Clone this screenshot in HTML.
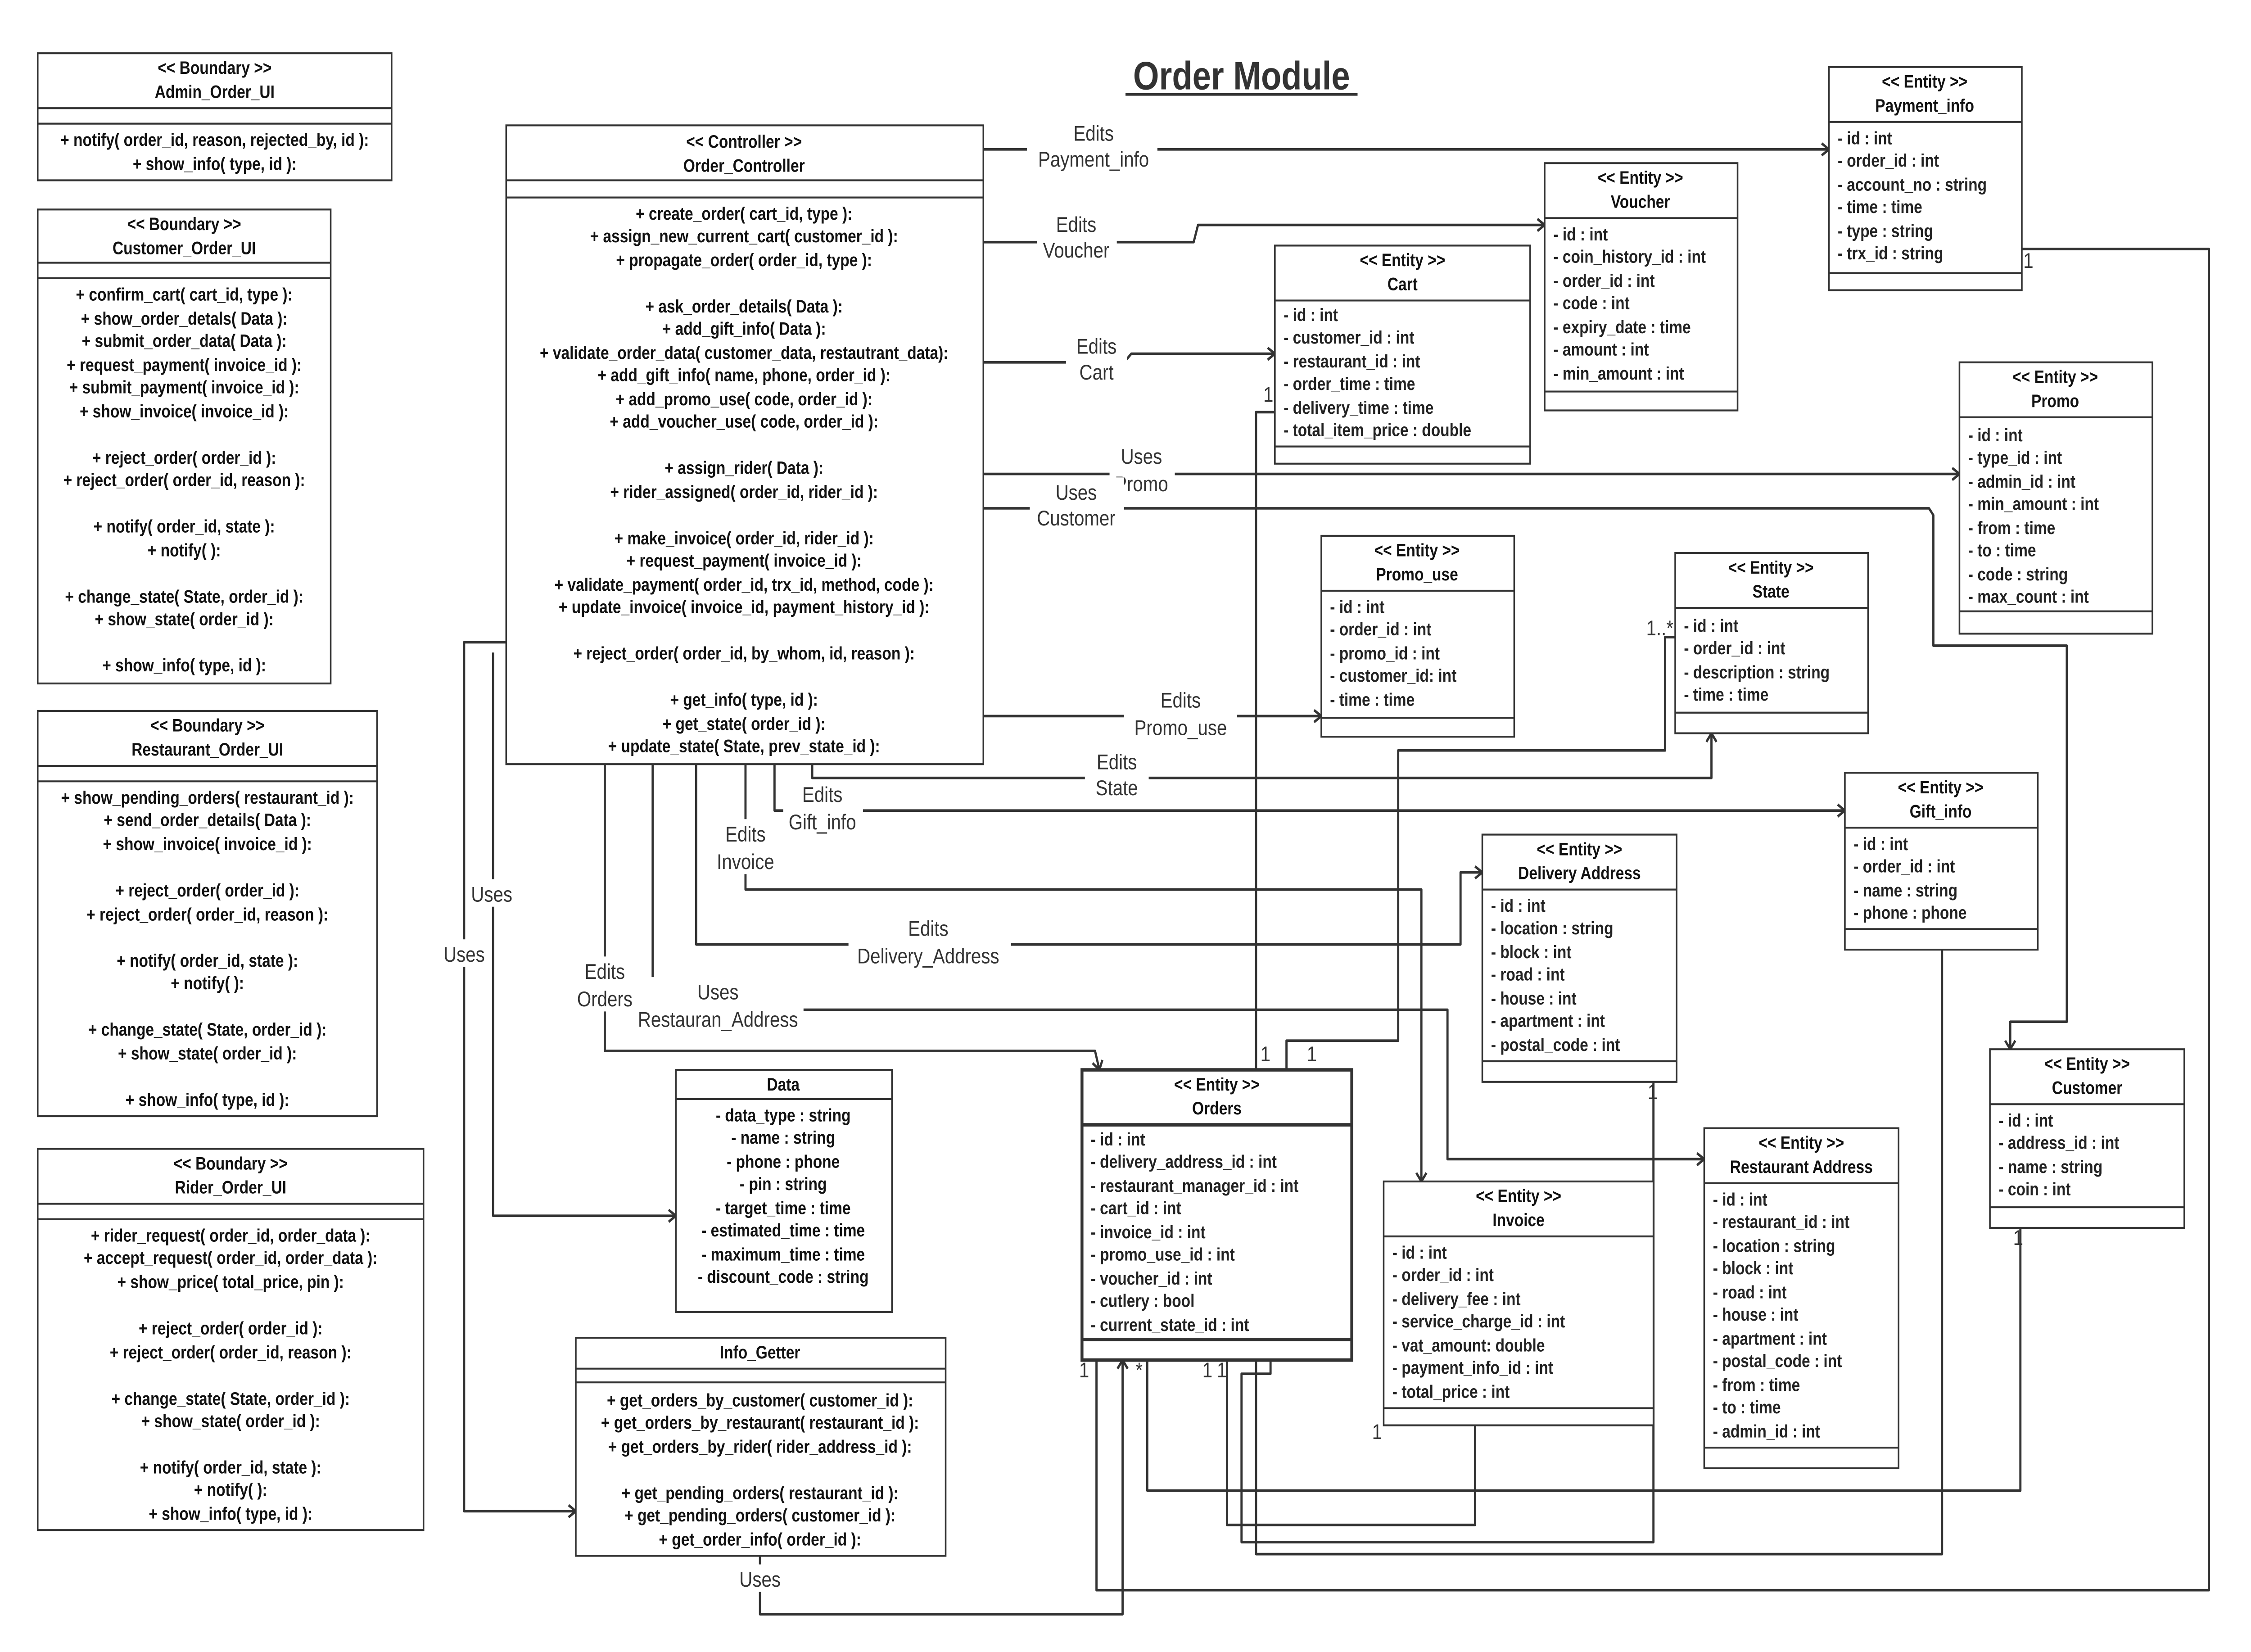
<!DOCTYPE html>
<html><head><meta charset="utf-8"><style>
html,body{margin:0;padding:0;background:#fff;width:100%;height:100%;overflow:hidden}
svg{display:block;width:100vw;height:100vh}
.b{font-family:"Liberation Sans",sans-serif;font-weight:bold;font-size:10.4px;fill:#111}
.a{font-family:"Liberation Sans",sans-serif;font-weight:bold;font-size:10.4px;fill:#222}
.l{font-family:"Liberation Sans",sans-serif;font-size:12.5px;fill:#333}
.box{fill:#fff;stroke:#333;stroke-width:1.1}
.ln{fill:none;stroke:#333;stroke-width:1.5;stroke-linejoin:round}
.sp{stroke:#333;stroke-width:1.1}
</style></head><body>
<svg viewBox="0 0 1552 962" preserveAspectRatio="none" xmlns="http://www.w3.org/2000/svg">
<defs><marker id="ar" markerWidth="10" markerHeight="10" refX="8" refY="5" orient="auto" markerUnits="userSpaceOnUse"><polyline points="3,1.5 8,5 3,8.5" fill="none" stroke="#333" stroke-width="1.5"/></marker></defs>
<rect width="1552" height="962" fill="#fff"/>
<text x="856" y="52" text-anchor="middle" style="font-family:'Liberation Sans',sans-serif;font-weight:bold;font-size:23px;fill:#333">Order  Module</text>
<line x1="776" y1="55" x2="936" y2="55" stroke="#333" stroke-width="1.5"/>

<g class="ln">
<polyline points="678,87 1261,87" marker-end="url(#ar)"/>
<polyline points="678,141 823,141 826,131 1065,131" marker-end="url(#ar)"/>
<polyline points="678,211 775,211 780,206 879,206" marker-end="url(#ar)"/>
<polyline points="678,276 1351,276" marker-end="url(#ar)"/>
<polyline points="678,296 1330,296 1333,300 1333,376 1425,376 1425,595 1386,595 1386,611" marker-end="url(#ar)"/>
<polyline points="678,417 911,417" marker-end="url(#ar)"/>
<polyline points="560,445 560,453 1180,453 1180,427" marker-end="url(#ar)"/>
<polyline points="534,445 534,472 1272,472" marker-end="url(#ar)"/>
<polyline points="514,445 514,518 980,518 980,688" marker-end="url(#ar)"/>
<polyline points="480,445 480,550 1007,550 1007,508 1022,508" marker-end="url(#ar)"/>
<polyline points="450,445 450,588 998,588 998,675 1175,675" marker-end="url(#ar)"/>
<polyline points="417,445 417,612 755,612 758,623" marker-end="url(#ar)"/>
<polyline points="349,374 320,374 320,880 397,880" marker-end="url(#ar)"/>
<polyline points="340,380 340,708 466,708" marker-end="url(#ar)"/>
<polyline points="524,906 524,940 774,940 774,792" marker-end="url(#ar)"/>
<polyline points="756,792 756,926 1523,926 1523,145 1394,145"/>
<polyline points="791,792 791,868 1393,868 1393,715"/>
<polyline points="846,792 846,888 1017,888 1017,830"/>
<polyline points="866,792 866,905 1339,905 1339,553"/>
<polyline points="876,792 876,800 856,800 856,898 1140,898 1140,630"/>
<polyline points="866,623 866,240 879,240"/>
<polyline points="887,623 887,606 964,606 964,437 1148,437 1148,371 1155,371"/>
</g>
<g class="l" text-anchor="middle">
<rect x="708" y="68" width="90" height="32" fill="#fff"/>
<text x="754" y="82">Edits</text><text x="754" y="97">Payment_info</text>
<rect x="715" y="121" width="55" height="32" fill="#fff"/>
<text x="742" y="135">Edits</text><text x="742" y="150">Voucher</text>
<rect x="735" y="192" width="42" height="32" fill="#fff"/>
<text x="756" y="206">Edits</text><text x="756" y="221">Cart</text>
<rect x="765" y="257" width="45" height="32" fill="#fff"/>
<text x="787" y="270">Uses</text><text x="787" y="286">Promo</text>
<rect x="710" y="278" width="65" height="32" fill="#fff"/>
<text x="742" y="291">Uses</text><text x="742" y="306">Customer</text>
<rect x="775" y="399" width="78" height="32" fill="#fff"/>
<text x="814" y="412">Edits</text><text x="814" y="428">Promo_use</text>
<rect x="748" y="434" width="44" height="32" fill="#fff"/>
<text x="770" y="448">Edits</text><text x="770" y="463">State</text>
<rect x="540" y="454" width="55" height="32" fill="#fff"/>
<text x="567" y="467">Edits</text><text x="567" y="483">Gift_info</text>
<rect x="490" y="477" width="48" height="32" fill="#fff"/>
<text x="514" y="490">Edits</text><text x="514" y="506">Invoice</text>
<rect x="585" y="532" width="112" height="32" fill="#fff"/>
<text x="640" y="545">Edits</text><text x="640" y="561">Delivery_Address</text>
<rect x="436" y="569" width="118" height="32" fill="#fff"/>
<text x="495" y="582">Uses</text><text x="495" y="598">Restauran_Address</text>
<rect x="395" y="557" width="44" height="32" fill="#fff"/>
<text x="417" y="570">Edits</text><text x="417" y="586">Orders</text>
<rect x="322" y="512" width="34" height="16" fill="#fff"/>
<text x="339" y="525">Uses</text>
<rect x="304" y="547" width="34" height="16" fill="#fff"/>
<text x="320" y="560">Uses</text>
<rect x="507" y="911" width="34" height="16" fill="#fff"/>
<text x="524" y="924">Uses</text>
</g>
<g class="l">
<text x="1395" y="156">1</text><text x="744" y="802">1</text><text x="783" y="802">*</text>
<text x="829" y="802">1</text><text x="839" y="802">1</text><text x="1388" y="725">1</text>
<text x="946" y="838">1</text><text x="1136" y="640">1</text><text x="869" y="618">1</text>
<text x="871" y="234">1</text><text x="901" y="618">1</text><text x="1135" y="370">1..*</text>
</g>

<g>
<rect class="box" x="26" y="31" width="244" height="74"/>
<line class="sp" x1="26" y1="63" x2="270" y2="63"/><line class="sp" x1="26" y1="72" x2="270" y2="72"/>
<g class="b" text-anchor="middle"><text x="148" y="43">&lt;&lt; Boundary &gt;&gt;</text><text x="148" y="57">Admin_Order_UI</text>
<text x="148" y="85">+ notify( order_id, reason, rejected_by, id ):</text><text x="148" y="99">+ show_info( type, id ):</text></g>

<rect class="box" x="26" y="122" width="202" height="276"/>
<line class="sp" x1="26" y1="153" x2="228" y2="153"/><line class="sp" x1="26" y1="162" x2="228" y2="162"/>
<g class="b" text-anchor="middle"><text x="127" y="134">&lt;&lt; Boundary &gt;&gt;</text><text x="127" y="148">Customer_Order_UI</text>
<text x="127" y="175">+ confirm_cart( cart_id, type ):</text><text x="127" y="189">+ show_order_detals( Data ):</text><text x="127" y="202">+ submit_order_data( Data ):</text><text x="127" y="216">+ request_payment( invoice_id ):</text><text x="127" y="229">+ submit_payment( invoice_id ):</text><text x="127" y="243">+ show_invoice( invoice_id ):</text>
<text x="127" y="270">+ reject_order( order_id ):</text><text x="127" y="283">+ reject_order( order_id, reason ):</text>
<text x="127" y="310">+ notify( order_id, state ):</text><text x="127" y="324">+ notify( ):</text>
<text x="127" y="351">+ change_state( State, order_id ):</text><text x="127" y="364">+ show_state( order_id ):</text>
<text x="127" y="391">+ show_info( type, id ):</text></g>

<rect class="box" x="26" y="414" width="234" height="236"/>
<line class="sp" x1="26" y1="446" x2="260" y2="446"/><line class="sp" x1="26" y1="455" x2="260" y2="455"/>
<g class="b" text-anchor="middle"><text x="143" y="426">&lt;&lt; Boundary &gt;&gt;</text><text x="143" y="440">Restaurant_Order_UI</text>
<text x="143" y="468">+ show_pending_orders( restaurant_id ):</text><text x="143" y="481">+ send_order_details( Data ):</text><text x="143" y="495">+ show_invoice( invoice_id ):</text>
<text x="143" y="522">+ reject_order( order_id ):</text><text x="143" y="536">+ reject_order( order_id, reason ):</text>
<text x="143" y="563">+ notify( order_id, state ):</text><text x="143" y="576">+ notify( ):</text>
<text x="143" y="603">+ change_state( State, order_id ):</text><text x="143" y="617">+ show_state( order_id ):</text>
<text x="143" y="644">+ show_info( type, id ):</text></g>

<rect class="box" x="26" y="669" width="266" height="222"/>
<line class="sp" x1="26" y1="701" x2="292" y2="701"/><line class="sp" x1="26" y1="710" x2="292" y2="710"/>
<g class="b" text-anchor="middle"><text x="159" y="681">&lt;&lt; Boundary &gt;&gt;</text><text x="159" y="695">Rider_Order_UI</text>
<text x="159" y="723">+ rider_request( order_id, order_data ):</text><text x="159" y="736">+ accept_request( order_id, order_data ):</text><text x="159" y="750">+ show_price( total_price, pin ):</text>
<text x="159" y="777">+ reject_order( order_id ):</text><text x="159" y="791">+ reject_order( order_id, reason ):</text>
<text x="159" y="818">+ change_state( State, order_id ):</text><text x="159" y="831">+ show_state( order_id ):</text>
<text x="159" y="858">+ notify( order_id, state ):</text><text x="159" y="871">+ notify( ):</text><text x="159" y="885">+ show_info( type, id ):</text></g>
</g>

<rect class="box" x="349" y="73" width="329" height="372"/>
<line class="sp" x1="349" y1="105" x2="678" y2="105"/><line class="sp" x1="349" y1="115" x2="678" y2="115"/>
<g class="b" text-anchor="middle"><text x="513" y="86">&lt;&lt; Controller &gt;&gt;</text><text x="513" y="100">Order_Controller</text>
<text x="513" y="128">+ create_order( cart_id, type ):</text><text x="513" y="141">+ assign_new_current_cart( customer_id ):</text><text x="513" y="155">+ propagate_order( order_id, type ):</text>
<text x="513" y="182">+ ask_order_details( Data ):</text><text x="513" y="195">+ add_gift_info( Data ):</text><text x="513" y="209">+ validate_order_data( customer_data, restautrant_data):</text><text x="513" y="222">+ add_gift_info( name, phone, order_id ):</text><text x="513" y="236">+ add_promo_use( code, order_id ):</text><text x="513" y="249">+ add_voucher_use( code, order_id ):</text>
<text x="513" y="276">+ assign_rider( Data ):</text><text x="513" y="290">+ rider_assigned( order_id, rider_id ):</text>
<text x="513" y="317">+ make_invoice( order_id, rider_id ):</text><text x="513" y="330">+ request_payment( invoice_id ):</text><text x="513" y="344">+ validate_payment( order_id, trx_id, method, code ):</text><text x="513" y="357">+ update_invoice( invoice_id, payment_history_id ):</text>
<text x="513" y="384">+ reject_order( order_id, by_whom, id, reason ):</text>
<text x="513" y="411">+ get_info( type, id ):</text><text x="513" y="425">+ get_state( order_id ):</text><text x="513" y="438">+ update_state( State, prev_state_id ):</text></g>

<rect class="box" x="466" y="623" width="149" height="141"/>
<line class="sp" x1="466" y1="640" x2="615" y2="640"/>
<g class="b" text-anchor="middle"><text x="540" y="635">Data</text>
<text x="540" y="653">- data_type : string</text><text x="540" y="666">- name : string</text><text x="540" y="680">- phone : phone</text><text x="540" y="693">- pin : string</text><text x="540" y="707">- target_time : time</text><text x="540" y="720">- estimated_time : time</text><text x="540" y="734">- maximum_time : time</text><text x="540" y="747">- discount_code : string</text></g>

<rect class="box" x="397" y="779" width="255" height="127"/>
<line class="sp" x1="397" y1="797" x2="652" y2="797"/><line class="sp" x1="397" y1="805" x2="652" y2="805"/>
<g class="b" text-anchor="middle"><text x="524" y="791">Info_Getter</text>
<text x="524" y="819">+ get_orders_by_customer( customer_id ):</text><text x="524" y="832">+ get_orders_by_restaurant( restaurant_id ):</text><text x="524" y="846">+ get_orders_by_rider( rider_address_id ):</text>
<text x="524" y="873">+ get_pending_orders( restaurant_id ):</text><text x="524" y="886">+ get_pending_orders( customer_id ):</text><text x="524" y="900">+ get_order_info( order_id ):</text></g>

<g>
<rect class="box" x="1261" y="39" width="133" height="130"/><line class="sp" x1="1261" y1="71" x2="1394" y2="71"/><line class="sp" x1="1261" y1="159" x2="1394" y2="159"/>
<g class="b" text-anchor="middle"><text x="1327" y="51">&lt;&lt; Entity &gt;&gt;</text><text x="1327" y="65">Payment_info</text></g>
<g class="a"><text x="1267" y="84">- id : int</text><text x="1267" y="97">- order_id : int</text><text x="1267" y="111">- account_no : string</text><text x="1267" y="124">- time : time</text><text x="1267" y="138">- type : string</text><text x="1267" y="151">- trx_id : string</text></g>

<rect class="box" x="1065" y="95" width="133" height="144"/><line class="sp" x1="1065" y1="127" x2="1198" y2="127"/><line class="sp" x1="1065" y1="228" x2="1198" y2="228"/>
<g class="b" text-anchor="middle"><text x="1131" y="107">&lt;&lt; Entity &gt;&gt;</text><text x="1131" y="121">Voucher</text></g>
<g class="a"><text x="1071" y="140">- id : int</text><text x="1071" y="153">- coin_history_id : int</text><text x="1071" y="167">- order_id : int</text><text x="1071" y="180">- code : int</text><text x="1071" y="194">- expiry_date : time</text><text x="1071" y="207">- amount : int</text><text x="1071" y="221">- min_amount : int</text></g>

<rect class="box" x="879" y="143" width="176" height="127"/><line class="sp" x1="879" y1="175" x2="1055" y2="175"/><line class="sp" x1="879" y1="260" x2="1055" y2="260"/>
<g class="b" text-anchor="middle"><text x="967" y="155">&lt;&lt; Entity &gt;&gt;</text><text x="967" y="169">Cart</text></g>
<g class="a"><text x="885" y="187">- id : int</text><text x="885" y="200">- customer_id : int</text><text x="885" y="214">- restaurant_id : int</text><text x="885" y="227">- order_time : time</text><text x="885" y="241">- delivery_time : time</text><text x="885" y="254">- total_item_price : double</text></g>

<rect class="box" x="1351" y="211" width="133" height="158"/><line class="sp" x1="1351" y1="243" x2="1484" y2="243"/><line class="sp" x1="1351" y1="356" x2="1484" y2="356"/>
<g class="b" text-anchor="middle"><text x="1417" y="223">&lt;&lt; Entity &gt;&gt;</text><text x="1417" y="237">Promo</text></g>
<g class="a"><text x="1357" y="257">- id : int</text><text x="1357" y="270">- type_id : int</text><text x="1357" y="284">- admin_id : int</text><text x="1357" y="297">- min_amount : int</text><text x="1357" y="311">- from : time</text><text x="1357" y="324">- to : time</text><text x="1357" y="338">- code : string</text><text x="1357" y="351">- max_count : int</text></g>

<rect class="box" x="911" y="312" width="133" height="117"/><line class="sp" x1="911" y1="344" x2="1044" y2="344"/><line class="sp" x1="911" y1="418" x2="1044" y2="418"/>
<g class="b" text-anchor="middle"><text x="977" y="324">&lt;&lt; Entity &gt;&gt;</text><text x="977" y="338">Promo_use</text></g>
<g class="a"><text x="917" y="357">- id : int</text><text x="917" y="370">- order_id : int</text><text x="917" y="384">- promo_id : int</text><text x="917" y="397">- customer_id: int</text><text x="917" y="411">- time : time</text></g>

<rect class="box" x="1155" y="322" width="133" height="105"/><line class="sp" x1="1155" y1="354" x2="1288" y2="354"/><line class="sp" x1="1155" y1="415" x2="1288" y2="415"/>
<g class="b" text-anchor="middle"><text x="1221" y="334">&lt;&lt; Entity &gt;&gt;</text><text x="1221" y="348">State</text></g>
<g class="a"><text x="1161" y="368">- id : int</text><text x="1161" y="381">- order_id : int</text><text x="1161" y="395">- description : string</text><text x="1161" y="408">- time : time</text></g>

<rect class="box" x="1272" y="450" width="133" height="103"/><line class="sp" x1="1272" y1="482" x2="1405" y2="482"/><line class="sp" x1="1272" y1="541" x2="1405" y2="541"/>
<g class="b" text-anchor="middle"><text x="1338" y="462">&lt;&lt; Entity &gt;&gt;</text><text x="1338" y="476">Gift_info</text></g>
<g class="a"><text x="1278" y="495">- id : int</text><text x="1278" y="508">- order_id : int</text><text x="1278" y="522">- name : string</text><text x="1278" y="535">- phone : phone</text></g>

<rect class="box" x="1022" y="486" width="134" height="144"/><line class="sp" x1="1022" y1="518" x2="1156" y2="518"/><line class="sp" x1="1022" y1="618" x2="1156" y2="618"/>
<g class="b" text-anchor="middle"><text x="1089" y="498">&lt;&lt; Entity &gt;&gt;</text><text x="1089" y="512">Delivery Address</text></g>
<g class="a"><text x="1028" y="531">- id : int</text><text x="1028" y="544">- location : string</text><text x="1028" y="558">- block : int</text><text x="1028" y="571">- road : int</text><text x="1028" y="585">- house : int</text><text x="1028" y="598">- apartment : int</text><text x="1028" y="612">- postal_code : int</text></g>

<rect class="box" x="746" y="623" width="186" height="169" style="stroke-width:2"/><line x1="746" y1="655" x2="932" y2="655" stroke="#333" stroke-width="2"/><line x1="746" y1="780" x2="932" y2="780" stroke="#333" stroke-width="2"/>
<g class="b" text-anchor="middle"><text x="839" y="635">&lt;&lt; Entity &gt;&gt;</text><text x="839" y="649">Orders</text></g>
<g class="a"><text x="752" y="667">- id : int</text><text x="752" y="680">- delivery_address_id : int</text><text x="752" y="694">- restaurant_manager_id : int</text><text x="752" y="707">- cart_id : int</text><text x="752" y="721">- invoice_id : int</text><text x="752" y="734">- promo_use_id : int</text><text x="752" y="748">- voucher_id : int</text><text x="752" y="761">- cutlery : bool</text><text x="752" y="775">- current_state_id : int</text></g>

<rect class="box" x="954" y="688" width="186" height="142"/><line class="sp" x1="954" y1="720" x2="1140" y2="720"/><line class="sp" x1="954" y1="820" x2="1140" y2="820"/>
<g class="b" text-anchor="middle"><text x="1047" y="700">&lt;&lt; Entity &gt;&gt;</text><text x="1047" y="714">Invoice</text></g>
<g class="a"><text x="960" y="733">- id : int</text><text x="960" y="746">- order_id : int</text><text x="960" y="760">- delivery_fee : int</text><text x="960" y="773">- service_charge_id : int</text><text x="960" y="787">- vat_amount: double</text><text x="960" y="800">- payment_info_id : int</text><text x="960" y="814">- total_price : int</text></g>

<rect class="box" x="1175" y="657" width="134" height="198"/><line class="sp" x1="1175" y1="689" x2="1309" y2="689"/><line class="sp" x1="1175" y1="843" x2="1309" y2="843"/>
<g class="b" text-anchor="middle"><text x="1242" y="669">&lt;&lt; Entity &gt;&gt;</text><text x="1242" y="683">Restaurant Address</text></g>
<g class="a"><text x="1181" y="702">- id : int</text><text x="1181" y="715">- restaurant_id : int</text><text x="1181" y="729">- location : string</text><text x="1181" y="742">- block : int</text><text x="1181" y="756">- road : int</text><text x="1181" y="769">- house : int</text><text x="1181" y="783">- apartment : int</text><text x="1181" y="796">- postal_code : int</text><text x="1181" y="810">- from : time</text><text x="1181" y="823">- to : time</text><text x="1181" y="837">- admin_id : int</text></g>

<rect class="box" x="1372" y="611" width="134" height="104"/><line class="sp" x1="1372" y1="643" x2="1506" y2="643"/><line class="sp" x1="1372" y1="703" x2="1506" y2="703"/>
<g class="b" text-anchor="middle"><text x="1439" y="623">&lt;&lt; Entity &gt;&gt;</text><text x="1439" y="637">Customer</text></g>
<g class="a"><text x="1378" y="656">- id : int</text><text x="1378" y="669">- address_id : int</text><text x="1378" y="683">- name : string</text><text x="1378" y="696">- coin : int</text></g>
</g>
</svg>
</body></html>
